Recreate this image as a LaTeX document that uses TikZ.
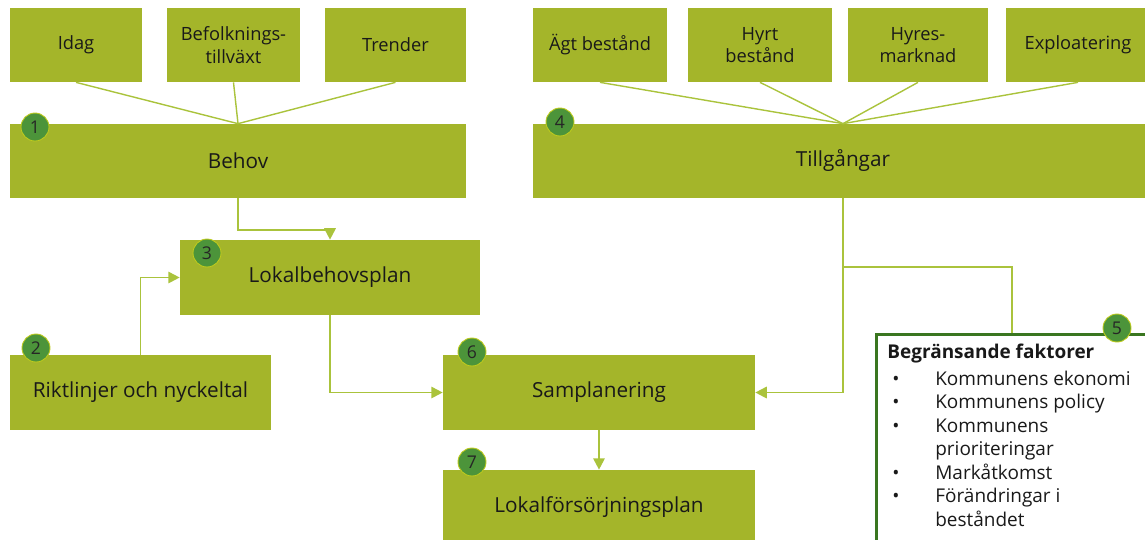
\documentclass[tikz,border=0pt]{standalone}
\usepackage{fontspec}
\setmainfont{Open Sans}
\usetikzlibrary{arrows.meta}

\definecolor{kastengruen}{RGB}{164,181,42}
\definecolor{markengruen}{RGB}{76,148,58}
\definecolor{liniengruen}{RGB}{170,195,60}
\definecolor{rahmengruen}{RGB}{58,118,32}

\tikzset{
  kasten/.style={fill=kastengruen, inner sep=0pt, align=center, text=black!90,
    minimum height=1.5cm, font=\fontsize{11.8}{14}\selectfont},
  klein/.style={kasten, minimum height=1.48cm, font=\fontsize{10.4}{12.8}\selectfont},
  marke/.style={circle, fill=markengruen, draw=kastengruen!70!yellow, line width=0.5pt,
    minimum size=0.56cm, inner sep=0pt, text=black!85, font=\fontsize{10}{12}\selectfont},
  faecher/.style={liniengruen, line width=0.8pt},
  linie/.style={liniengruen, line width=1.1pt},
  pfeil/.style={linie, -{Triangle[length=6.5pt,width=6.5pt]}},
}

\begin{document}
\begin{tikzpicture}[x=0.02cm, y=-0.02cm]
\useasboundingbox (0,0) rectangle (1145,539);

%OBERE REIHE (links)
\node [klein, minimum width=2.64cm] (idag) at (76,45) {Idag};
\node [klein, minimum width=2.66cm] (befolk) at (233.5,45) {Befolknings-\\tillväxt};
\node [klein, minimum width=2.82cm] (trender) at (395.5,45) {Trender};

%OBERE REIHE (rechts)
\node [klein, minimum width=2.68cm] (agt) at (600,45) {Ägt bestånd};
\node [klein, minimum width=2.88cm] (hyrt) at (760,45) {Hyrt\\bestånd};
\node [klein, minimum width=2.80cm] (hyres) at (918,45) {Hyres-\\marknad};
\node [klein, minimum width=2.88cm] (exploat) at (1078,45) {Exploatering};

%KASTEN NR. 1 und 4
\node [kasten, minimum width=9.12cm, minimum height=1.48cm] (behov) at (238,161) {Behov};
\node [kasten, minimum width=12.4cm, minimum height=1.48cm] (tillg) at (843,161) {Tillgångar};

%KASTEN NR. 2 und 3
\node [kasten, minimum width=6.0cm] (lokbeh) at (330,277.5) {Lokalbehovsplan};
\node [kasten, minimum width=5.22cm] (riktl) at (140.5,392.5) {Riktlinjer och nyckeltal};

%KASTEN NR. 6 und 7
\node [kasten, minimum width=6.24cm] (sampl) at (599,392.5) {Samplanering};
\node [kasten, minimum width=6.24cm] (lokfors) at (599,507.5) {Lokalförsörjningsplan};

%KASTEN NR. 5
\node [draw=rahmengruen, line width=1.7pt, anchor=north west, inner sep=0pt,
  minimum width=6cm, minimum height=4.6cm] (faktor) at (875,333) {};
\node [anchor=north west, inner sep=0pt, align=left, text=black!90,
  font=\fontsize{10.8}{13.4}\selectfont] (faktortext) at (887,342) {%
  \begin{tabular}{@{}p{0.96cm}@{}l@{}}
  \multicolumn{2}{@{}l@{}}{\textbf{Begränsande faktorer}}\\[1.5pt]
  \hspace{0.1cm}\textbullet & Kommunens ekonomi\\
  \hspace{0.1cm}\textbullet & Kommunens policy\\
  \hspace{0.1cm}\textbullet & Kommunens\\
   & prioriteringar\\
  \hspace{0.1cm}\textbullet & Markåtkomst\\
  \hspace{0.1cm}\textbullet & Förändringar i\\
   & beståndet
  \end{tabular}};
\coordinate (faktorin) at (1012,333);

%FAECHER
\foreach \oben in {idag,befolk,trender}
  \draw [faecher] (\oben.south) -- (behov.north);
\foreach \oben in {agt,hyrt,hyres,exploat}
  \draw [faecher] (\oben.south) -- (tillg.north);

%VERBINDUNGEN
\draw [pfeil] (behov.south) -- ++(0,32) -| (lokbeh.north);
\draw [pfeil] (riktl.north) |- (lokbeh.west);
\draw [pfeil] (lokbeh.south) |- (sampl.west);
\draw [pfeil] (tillg.south) |- (sampl.east);
\draw [linie] (tillg.south) ++(0,69) -| (faktorin);
\draw [pfeil] (sampl.south) -- (lokfors.north);

%NUMMERN
\node [marke] (m1) at (35,127) {1};
\node [marke] (m2) at (36,348) {2};
\node [marke] (m3) at (207,253) {3};
\node [marke] (m4) at (560,122) {4};
\node [marke] (m5) at (1117,328) {5};
\node [marke] (m6) at (472,352) {6};
\node [marke] (m7) at (472,462) {7};

\end{tikzpicture}
\end{document}
